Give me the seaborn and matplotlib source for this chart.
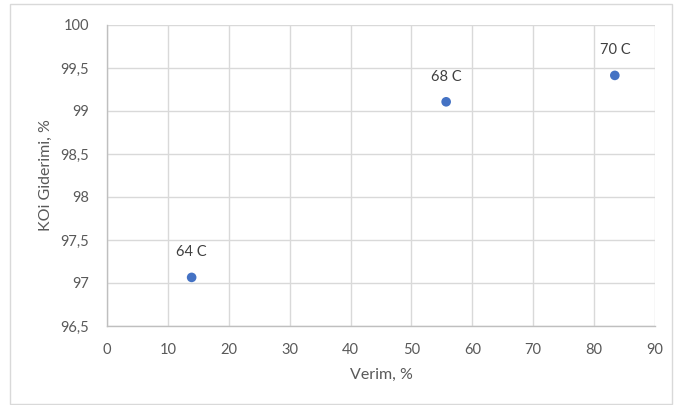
import pandas as pd
import matplotlib
matplotlib.use("Agg")
import matplotlib.pyplot as plt
import seaborn as sns
from matplotlib.ticker import FuncFormatter, MultipleLocator
from matplotlib.patches import Rectangle

# veriler
verim = [13.9, 55.7, 83.4]
koi_giderimi = [97.065, 99.107, 99.414]
sicaklik = ["64 C", "68 C", "70 C"]

df = pd.DataFrame({"Verim": verim, "KOi": koi_giderimi, "Etiket": sicaklik})

sns.set_style("white")
plt.rcParams["font.family"] = ["Lato", "DejaVu Sans"]

gri = "#595959"
fig = plt.figure(figsize=(6.74, 4.05), dpi=100)
ax = fig.add_axes([107 / 674, 1 - 326 / 405, 548 / 674, 301 / 405])

sns.scatterplot(data=df, x="Verim", y="KOi", ax=ax, color="#4472C4",
                s=48, edgecolor="none", zorder=3)

for _, r in df.iterrows():
    ax.annotate(r["Etiket"], (r["Verim"], r["KOi"]), xytext=(0, 13),
                textcoords="offset points", ha="center", va="bottom",
                fontsize=10.5, color="#404040")

ax.set_xlim(0, 90)
ax.set_ylim(96.5, 100)
ax.xaxis.set_major_locator(MultipleLocator(10))
ax.yaxis.set_major_locator(MultipleLocator(0.5))
ax.yaxis.set_major_formatter(FuncFormatter(lambda v, p: f"{v:g}".replace(".", ",")))

ax.grid(True, color="#d9d9d9", linewidth=1)
ax.set_axisbelow(True)
for s in ["top", "right"]:
    ax.spines[s].set_visible(False)
for s in ["left", "bottom"]:
    ax.spines[s].set_color("#bfbfbf")
    ax.spines[s].set_linewidth(1)
ax.tick_params(length=0, labelsize=10.5, labelcolor=gri)
ax.tick_params(axis="x", pad=12)
ax.tick_params(axis="y", pad=13)

ax.set_xlabel("Verim, %", fontsize=11.5, color=gri, labelpad=8)
ax.set_ylabel("KOi Giderimi, %", fontsize=11.5, color=gri, labelpad=5)

# grafik çerçevesi
fig.patches.append(Rectangle((10 / 674, 0.003), 662 / 674, 1 - 4 / 405 - 0.003,
                             transform=fig.transFigure, fill=False,
                             edgecolor="#d9d9d9", linewidth=1))

fig.savefig("out.png", dpi=100)
